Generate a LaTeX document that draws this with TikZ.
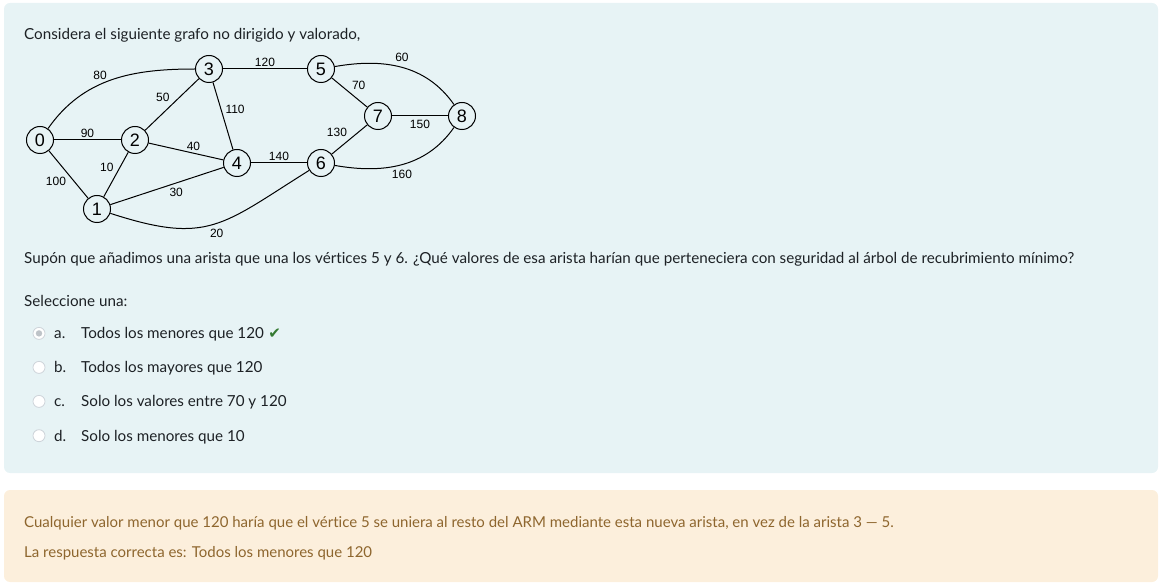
\documentclass[tikz,border=0pt]{standalone}
\usepackage{fontspec}
\setmainfont{Lato}[Ligatures=NoCommon]
\newfontfamily\graphfont{Liberation Sans}
\newfontfamily\symfont{DejaVu Sans}
\usetikzlibrary{positioning}
\definecolor{qbg}{HTML}{E7F3F5}
\definecolor{fbbg}{HTML}{FCEFDC}
\definecolor{fbtext}{HTML}{8E662E}
\definecolor{bodytext}{HTML}{1D2125}
\definecolor{okgreen}{HTML}{357A32}
\definecolor{radioedge}{HTML}{CED4DA}

\begin{document}
\begin{tikzpicture}[x=1pt,y=1pt,
  vertex/.style={draw,circle,line width=1pt,minimum size=27pt,inner sep=0pt,font=\graphfont\fontsize{18}{18}\selectfont},
  weight/.style={font=\graphfont\fontsize{12}{12}\selectfont,inner sep=2pt},
  txt/.style={anchor=base west,inner sep=0pt,text=bodytext,font=\fontsize{15.2}{17}\selectfont},
  fbtxt/.style={txt,text=fbtext,font=\fontsize{15}{17}\selectfont},
  radio/.style={draw=radioedge,fill=white,circle,minimum size=12pt,inner sep=0pt,line width=0.8pt}]
\useasboundingbox (0,0) rectangle (1163,-588);
% panels
\fill[qbg,rounded corners=6pt] (4,-3) rectangle (1158,-473);
\fill[fbbg,rounded corners=6pt] (4,-490) rectangle (1158,-582);

\node[txt] (intro) at (24,-39.3) {Considera el siguiente grafo no dirigido y valorado,};

% graph
\begin{scope}[line width=1pt]
\node[vertex] (v0) at (40,-140) {0};
\node[vertex] (v1) at (97,-209) {1};
\node[vertex] (v2) at (135,-140) {2};
\node[vertex] (v3) at (209,-69) {3};
\node[vertex] (v4) at (237,-163) {4};
\node[vertex] (v5) at (321,-69) {5};
\node[vertex] (v6) at (321,-163) {6};
\node[vertex] (v7) at (378,-116) {7};
\node[vertex] (v8) at (462,-116) {8};
\draw (v0) to[out=55,in=180] node[weight,pos=0.42,above,yshift=2pt]{80} (v3);
\draw (v0) -- node[weight,above]{90} (v2);
\draw (v0) -- node[weight,below left]{100} (v1);
\draw (v2) -- node[weight,above left]{50} (v3);
\draw (v2) -- node[weight,above left]{10} (v1);
\draw (v2) -- node[weight,pos=0.6,above]{40} (v4);
\draw (v3) -- node[weight,above right]{110} (v4);
\draw (v3) -- node[weight,above]{120} (v5);
\draw (v1) -- node[weight,below right]{30} (v4);
\draw (v1) to[out=-18,in=212,looseness=1.3] node[weight,below,xshift=3pt,yshift=-2pt]{20} (v6);
\draw (v4) -- node[weight,above]{140} (v6);
\draw (v5) -- node[weight,above right]{70} (v7);
\draw (v6) -- node[weight,above left]{130} (v7);
\draw (v7) -- node[weight,below,yshift=-2pt]{150} (v8);
\draw (v5) to[out=10,in=125] node[weight,above,yshift=3pt]{60} (v8);
\draw (v6) to[out=-10,in=235] node[weight,below,yshift=-3pt]{160} (v8);
\end{scope}

\node[txt] (question) at (24,-264) {Supón que añadimos una arista que una los vértices 5 y 6. ¿Qué valores de esa arista harían que perteneciera con seguridad al árbol de recubrimiento mínimo?};
\node[txt] (select) at (24,-306.7) {Seleccione una:};

% options
\foreach \l/\t/\y in {a/{Todos los menores que 120}/338.7,b/{Todos los mayores que 120}/372.7,
  c/{Solo los valores entre 70 y 120}/406.7,d/{Solo los menores que 10}/441}{
  \node[radio] (radio\l) at (39,-\y+5.3) {};
  \node[txt] (letter\l) at (54,-\y) {\l.};
  \node[txt] (opt\l) at (81,-\y) {\t};
}
\fill[radioedge!80!gray] (radioa) circle[radius=3.2pt];
\node[txt,text=okgreen,font=\symfont\fontsize{15}{15}\selectfont,right=4pt of opta.base east,anchor=base west] (tick) {✔};

% feedback
\node[fbtxt] (explain) at (24,-527) {Cualquier valor menor que 120 haría que el vértice 5 se uniera al resto del ARM mediante esta nueva arista, en vez de la arista 3 — 5.};
\node[fbtxt] (answer) at (24,-557) {La respuesta correcta es: Todos los menores que 120};
\end{tikzpicture}
\end{document}
